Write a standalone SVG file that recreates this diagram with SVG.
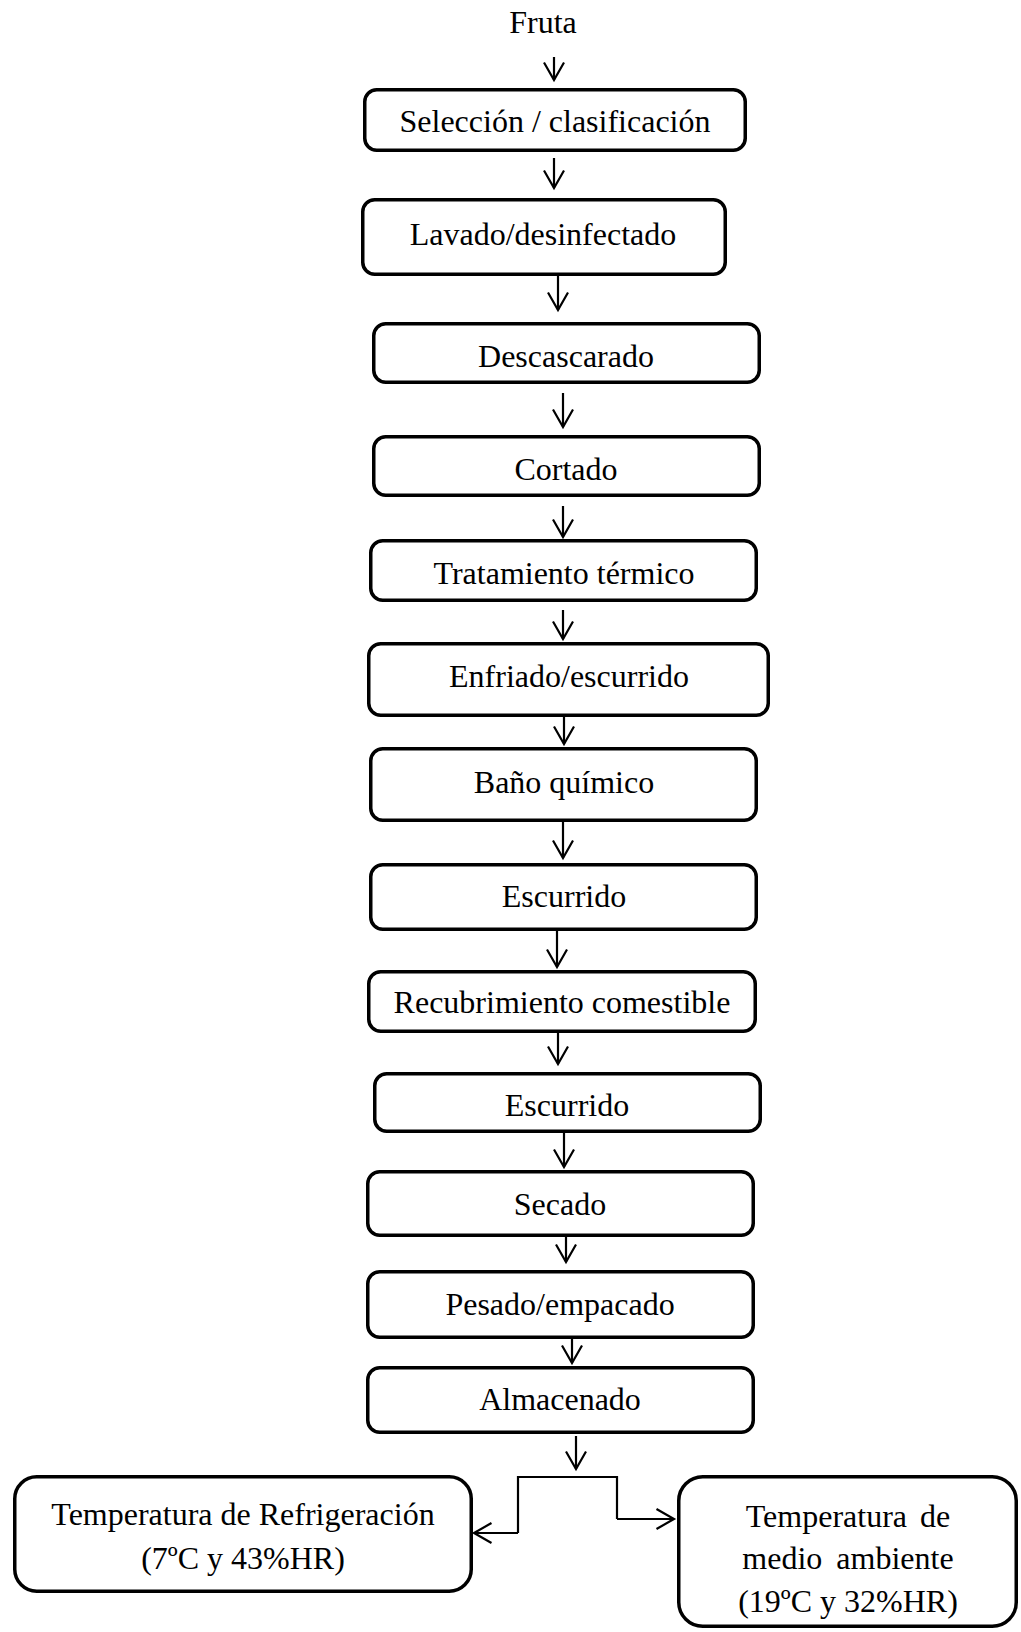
<svg xmlns="http://www.w3.org/2000/svg" width="1021" height="1632" viewBox="0 0 1021 1632">
<style>
.box{fill:#fff;stroke:#000;stroke-width:3.5}
.t{font-family:"Liberation Serif","Times New Roman",serif;font-size:32px;fill:#000;text-anchor:middle}
.c{fill:none;stroke:#000;stroke-width:2.2}
</style>
<defs>
<marker id="ah" markerUnits="userSpaceOnUse" markerWidth="26" markerHeight="26" refX="20" refY="12" orient="auto" viewBox="0 0 26 26" overflow="visible">
<path d="M2.5,2 L20,12 L2.5,22" fill="none" stroke="#000" stroke-width="2.2"/>
</marker>
</defs>
<rect width="1021" height="1632" fill="#fff"/>
<g id="n0"><text class="t" x="543" y="33">Fruta</text></g>
<g id="n1"><rect class="box" x="364.75" y="89.75" width="380.5" height="60.5" rx="12"/><text class="t" x="555" y="132">Selección / clasificación</text></g>
<g id="n2"><rect class="box" x="362.75" y="199.75" width="362.5" height="74.5" rx="12"/><text class="t" x="543" y="245">Lavado/desinfectado</text></g>
<g id="n3"><rect class="box" x="373.75" y="323.75" width="385.5" height="58.5" rx="12"/><text class="t" x="566" y="367">Descascarado</text></g>
<g id="n4"><rect class="box" x="373.75" y="436.75" width="385.5" height="58.5" rx="12"/><text class="t" x="566" y="480">Cortado</text></g>
<g id="n5"><rect class="box" x="370.75" y="540.75" width="385.5" height="59.5" rx="12"/><text class="t" x="564" y="584">Tratamiento térmico</text></g>
<g id="n6"><rect class="box" x="368.75" y="643.75" width="399.5" height="71.5" rx="12"/><text class="t" x="569" y="687">Enfriado/escurrido</text></g>
<g id="n7"><rect class="box" x="370.75" y="748.75" width="385.5" height="71.5" rx="12"/><text class="t" x="564" y="793">Baño químico</text></g>
<g id="n8"><rect class="box" x="370.75" y="864.75" width="385.5" height="64.5" rx="12"/><text class="t" x="564" y="907">Escurrido</text></g>
<g id="n9"><rect class="box" x="368.75" y="971.75" width="386.5" height="59.5" rx="12"/><text class="t" x="562" y="1013">Recubrimiento comestible</text></g>
<g id="n10"><rect class="box" x="374.75" y="1073.75" width="385.5" height="57.5" rx="12"/><text class="t" x="567" y="1116">Escurrido</text></g>
<g id="n11"><rect class="box" x="367.75" y="1171.75" width="385.5" height="63.5" rx="12"/><text class="t" x="560" y="1215">Secado</text></g>
<g id="n12"><rect class="box" x="367.75" y="1271.75" width="385.5" height="65.5" rx="12"/><text class="t" x="560" y="1315">Pesado/empacado</text></g>
<g id="n13"><rect class="box" x="367.75" y="1367.75" width="385.5" height="64.5" rx="12"/><text class="t" x="560" y="1410">Almacenado</text></g>
<g id="n14"><rect class="box" x="14.75" y="1476.75" width="456.5" height="114.5" rx="22"/><text class="t" x="243" y="1525">Temperatura de Refrigeración</text><text class="t" x="243" y="1569">(7ºC y 43%HR)</text></g>
<g id="n15"><rect class="box" x="678.75" y="1476.75" width="337.5" height="149.5" rx="24"/><text class="t" x="848" y="1527" word-spacing="5">Temperatura de</text><text class="t" x="848" y="1569" word-spacing="6">medio ambiente</text><text class="t" x="848" y="1612">(19ºC y 32%HR)</text></g>
<g id="connectors">
<line class="c" x1="554" y1="57" x2="554" y2="80" marker-end="url(#ah)"/>
<line class="c" x1="554" y1="158" x2="554" y2="188" marker-end="url(#ah)"/>
<line class="c" x1="558" y1="276" x2="558" y2="310" marker-end="url(#ah)"/>
<line class="c" x1="563" y1="393" x2="563" y2="427" marker-end="url(#ah)"/>
<line class="c" x1="563" y1="506" x2="563" y2="537" marker-end="url(#ah)"/>
<line class="c" x1="563" y1="610" x2="563" y2="639" marker-end="url(#ah)"/>
<line class="c" x1="564" y1="717" x2="564" y2="744" marker-end="url(#ah)"/>
<line class="c" x1="563" y1="822" x2="563" y2="858" marker-end="url(#ah)"/>
<line class="c" x1="557" y1="931" x2="557" y2="967" marker-end="url(#ah)"/>
<line class="c" x1="558" y1="1033" x2="558" y2="1064" marker-end="url(#ah)"/>
<line class="c" x1="564" y1="1133" x2="564" y2="1167" marker-end="url(#ah)"/>
<line class="c" x1="566" y1="1237" x2="566" y2="1262" marker-end="url(#ah)"/>
<line class="c" x1="572" y1="1339" x2="572" y2="1363" marker-end="url(#ah)"/>
<line class="c" x1="576" y1="1436" x2="576" y2="1469" marker-end="url(#ah)"/>
<polyline class="c" points="518,1533 518,1477 617,1477 617,1519"/>
<line class="c" x1="518" y1="1533" x2="474" y2="1533" marker-end="url(#ah)"/>
<line class="c" x1="617" y1="1519" x2="674" y2="1519" marker-end="url(#ah)"/>
</g>
</svg>
